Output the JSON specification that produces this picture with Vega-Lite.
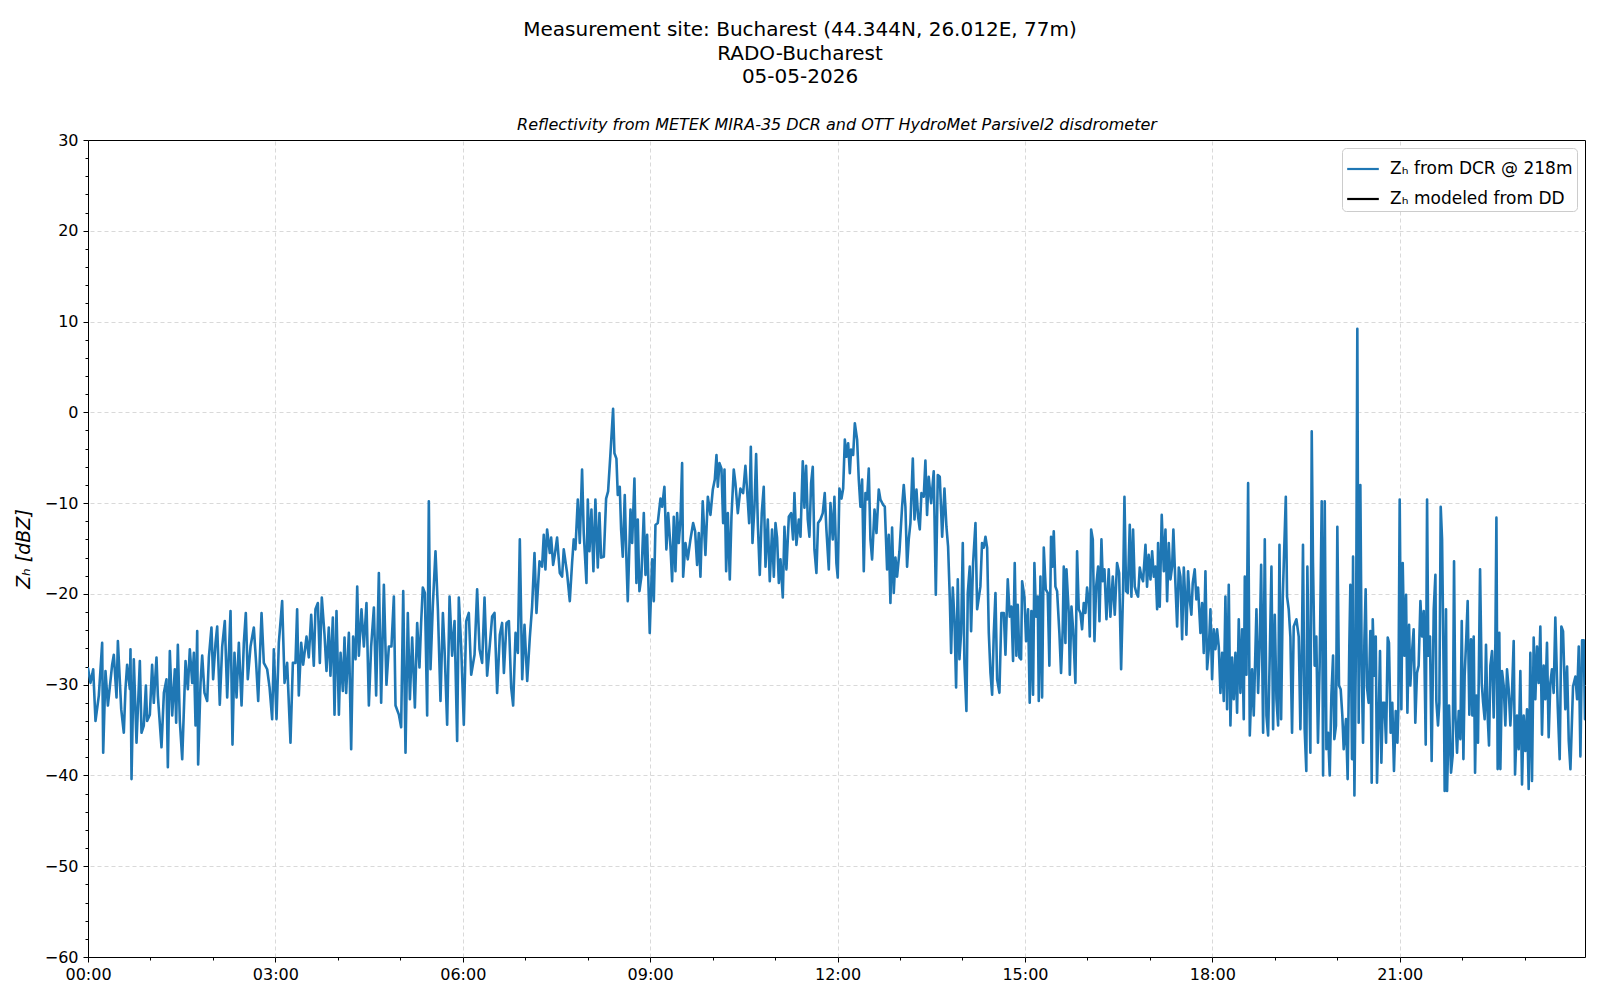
{
  "$schema": "https://vega.github.io/schema/vega-lite/v6.json",
  "width": 1497,
  "height": 817,
  "autosize": {"type": "none"},
  "padding": {"left": 88, "top": 140, "right": 15, "bottom": 43},
  "background": "white",
  "title": {
    "text": ["Measurement site: Bucharest (44.344N, 26.012E, 77m)", "RADO-Bucharest", "05-05-2026"],
    "fontSize": 20,
    "fontWeight": "normal",
    "font": "DejaVu Sans",
    "color": "#000000",
    "anchor": "middle",
    "dx": -36.5,
    "lineHeight": 23.5,
    "offset": 29
  },
  "config": {
    "font": "DejaVu Sans",
    "view": {"stroke": "#000000", "strokeWidth": 1},
    "axis": {
      "labelFontSize": 16,
      "labelColor": "#000000",
      "tickColor": "#000000",
      "tickWidth": 1,
      "titleColor": "#000000",
      "gridColor": "#cfcfcf",
      "gridDash": [4, 3],
      "gridWidth": 0.8,
      "domain": false,
      "labelFlush": false
    }
  },
  "data": {
    "values": [
      {"minute":0,"zh":-28.2},{"minute":2.4,"zh":-29.8},{"minute":5.0,"zh":-28.3},{"minute":7.2,"zh":-34},{"minute":10.4,"zh":-31.2},{"minute":12.0,"zh":-28.3},{"minute":13.6,"zh":-25.4},{"minute":14.6,"zh":-37.5},{"minute":16.8,"zh":-28.5},{"minute":19.1,"zh":-32.3},{"minute":23.2,"zh":-27.8},{"minute":24.8,"zh":-26.7},{"minute":27.4,"zh":-31.4},{"minute":28.7,"zh":-25.2},{"minute":31.9,"zh":-32.7},{"minute":34.4,"zh":-35.3},{"minute":36.0,"zh":-30.5},{"minute":37.6,"zh":-27.8},{"minute":40.2,"zh":-30.5},{"minute":40.8,"zh":-26.1},{"minute":41.8,"zh":-40.4},{"minute":44.0,"zh":-27.2},{"minute":46.6,"zh":-36.4},{"minute":49.8,"zh":-27.4},{"minute":51.4,"zh":-35.3},{"minute":53.6,"zh":-34.5},{"minute":55.6,"zh":-30.1},{"minute":56.8,"zh":-34},{"minute":59.4,"zh":-33.3},{"minute":61.6,"zh":-27.8},{"minute":63.2,"zh":-32},{"minute":65.8,"zh":-27},{"minute":67.1,"zh":-31.2},{"minute":70.6,"zh":-36.9},{"minute":72.9,"zh":-30.9},{"minute":75.4,"zh":-29.4},{"minute":76.7,"zh":-39.1},{"minute":78.6,"zh":-26.3},{"minute":80.9,"zh":-33.4},{"minute":83.4,"zh":-28.3},{"minute":84.7,"zh":-34.2},{"minute":86.3,"zh":-25.6},{"minute":88.2,"zh":-34},{"minute":90.5,"zh":-38.2},{"minute":93.7,"zh":-27.4},{"minute":95.9,"zh":-30.5},{"minute":97.8,"zh":-26.1},{"minute":100.1,"zh":-29.8},{"minute":101.7,"zh":-26.5},{"minute":103.3,"zh":-34.5},{"minute":104.9,"zh":-24.1},{"minute":105.8,"zh":-38.8},{"minute":108.1,"zh":-29.8},{"minute":109.7,"zh":-26.8},{"minute":111.9,"zh":-30.9},{"minute":114.5,"zh":-31.8},{"minute":116.1,"zh":-27},{"minute":118.6,"zh":-23.7},{"minute":120.2,"zh":-29.4},{"minute":122.5,"zh":-25.4},{"minute":124.1,"zh":-23.6},{"minute":126.6,"zh":-32.2},{"minute":128.9,"zh":-25.8},{"minute":131.4,"zh":-23},{"minute":133.7,"zh":-31.4},{"minute":136.9,"zh":-21.9},{"minute":138.8,"zh":-36.6},{"minute":140.7,"zh":-26.5},{"minute":142.7,"zh":-31.4},{"minute":144.9,"zh":-25.4},{"minute":147.5,"zh":-32.3},{"minute":149.7,"zh":-25.4},{"minute":151.6,"zh":-22.1},{"minute":153.5,"zh":-29.4},{"minute":156.1,"zh":-25.8},{"minute":159.3,"zh":-23.7},{"minute":161.5,"zh":-27.6},{"minute":163.5,"zh":-31.8},{"minute":166.7,"zh":-22.1},{"minute":168.9,"zh":-27.6},{"minute":172.1,"zh":-28.3},{"minute":174.4,"zh":-30.3},{"minute":176.9,"zh":-33.8},{"minute":178.5,"zh":-26.1},{"minute":181.1,"zh":-33.8},{"minute":183.3,"zh":-25.4},{"minute":186.5,"zh":-20.8},{"minute":188.8,"zh":-29.8},{"minute":191.3,"zh":-27.6},{"minute":194.5,"zh":-36.4},{"minute":196.8,"zh":-27.6},{"minute":199.3,"zh":-27.6},{"minute":200.9,"zh":-21.7},{"minute":202.5,"zh":-31.2},{"minute":204.8,"zh":-25.4},{"minute":206.7,"zh":-27.8},{"minute":209.9,"zh":-24.7},{"minute":212.1,"zh":-27},{"minute":214.4,"zh":-22.3},{"minute":216.9,"zh":-27.9},{"minute":218.5,"zh":-21.7},{"minute":220.8,"zh":-21},{"minute":222.7,"zh":-27.6},{"minute":224.6,"zh":-20.4},{"minute":227.2,"zh":-24.5},{"minute":229.1,"zh":-28.5},{"minute":231.3,"zh":-23.7},{"minute":232.9,"zh":-29},{"minute":235.2,"zh":-22.6},{"minute":236.8,"zh":-33.3},{"minute":238.7,"zh":-21.9},{"minute":241.0,"zh":-33.3},{"minute":242.6,"zh":-26.5},{"minute":244.8,"zh":-30.7},{"minute":246.4,"zh":-24.8},{"minute":248.0,"zh":-30.9},{"minute":250.6,"zh":-24.3},{"minute":252.8,"zh":-37.1},{"minute":254.7,"zh":-24.7},{"minute":257.0,"zh":-27.2},{"minute":258.6,"zh":-19.2},{"minute":260.2,"zh":-26.8},{"minute":262.7,"zh":-21.7},{"minute":265.0,"zh":-25.8},{"minute":267.5,"zh":-21},{"minute":269.8,"zh":-32.3},{"minute":272.0,"zh":-25.8},{"minute":274.6,"zh":-21.5},{"minute":276.8,"zh":-31.2},{"minute":279.4,"zh":-17.7},{"minute":281.6,"zh":-32},{"minute":284.2,"zh":-19},{"minute":286.7,"zh":-30},{"minute":289.0,"zh":-25.8},{"minute":291.5,"zh":-25.8},{"minute":293.8,"zh":-20.3},{"minute":295.4,"zh":-32.3},{"minute":298.6,"zh":-33.3},{"minute":300.8,"zh":-34.7},{"minute":302.8,"zh":-19.7},{"minute":305.0,"zh":-37.5},{"minute":307.2,"zh":-22.1},{"minute":309.2,"zh":-31.6},{"minute":311.4,"zh":-24.8},{"minute":314.0,"zh":-32.5},{"minute":316.2,"zh":-23.2},{"minute":318.4,"zh":-28.1},{"minute":320.0,"zh":-23.2},{"minute":321.6,"zh":-19.3},{"minute":323.6,"zh":-19.9},{"minute":325.8,"zh":-33.4},{"minute":327.4,"zh":-9.8},{"minute":329.0,"zh":-28.3},{"minute":331.2,"zh":-21.4},{"minute":333.8,"zh":-15.3},{"minute":336.1,"zh":-21.7},{"minute":338.6,"zh":-31.8},{"minute":340.9,"zh":-22.1},{"minute":342.5,"zh":-26.1},{"minute":345.0,"zh":-34.4},{"minute":347.3,"zh":-20.3},{"minute":349.8,"zh":-26.8},{"minute":352.1,"zh":-23},{"minute":354.6,"zh":-36.2},{"minute":356.2,"zh":-20.4},{"minute":358.5,"zh":-25.9},{"minute":361.0,"zh":-34.4},{"minute":363.3,"zh":-23},{"minute":365.8,"zh":-22.1},{"minute":368.1,"zh":-28.9},{"minute":371.3,"zh":-26.7},{"minute":373.8,"zh":-19.5},{"minute":376.1,"zh":-26.1},{"minute":378.6,"zh":-27.6},{"minute":380.9,"zh":-20.4},{"minute":383.4,"zh":-29},{"minute":386.0,"zh":-25.6},{"minute":388.2,"zh":-22.5},{"minute":390.5,"zh":-22.1},{"minute":393.0,"zh":-30.9},{"minute":395.6,"zh":-24.5},{"minute":397.8,"zh":-23.2},{"minute":399.5,"zh":-28.7},{"minute":402.0,"zh":-23.2},{"minute":404.3,"zh":-23},{"minute":406.5,"zh":-30.3},{"minute":408.4,"zh":-32.3},{"minute":410.7,"zh":-24.3},{"minute":412.9,"zh":-26.5},{"minute":414.8,"zh":-14},{"minute":417.1,"zh":-29.4},{"minute":419.3,"zh":-23.4},{"minute":421.9,"zh":-29.6},{"minute":424.4,"zh":-24.8},{"minute":426.6,"zh":-21.4},{"minute":428.9,"zh":-15.5},{"minute":430.8,"zh":-22.1},
      {"minute":433.7,"zh":-16.4},{"minute":436.2,"zh":-17},{"minute":437.8,"zh":-13.5},{"minute":439.4,"zh":-17.3},{"minute":441.0,"zh":-12.9},{"minute":443.6,"zh":-15.5},{"minute":444.9,"zh":-13.8},{"minute":446.8,"zh":-16.8},{"minute":448.4,"zh":-15.7},{"minute":450.6,"zh":-13.8},{"minute":453.2,"zh":-17.7},{"minute":455.4,"zh":-18.1},{"minute":457.0,"zh":-15.1},{"minute":460.2,"zh":-17.7},{"minute":462.8,"zh":-20.8},{"minute":465.0,"zh":-16.6},{"minute":466.6,"zh":-14},{"minute":468.2,"zh":-15.1},{"minute":470.5,"zh":-9.6},{"minute":472.4,"zh":-14.4},{"minute":474.6,"zh":-6.3},{"minute":476.2,"zh":-13.3},{"minute":478.8,"zh":-18.8},{"minute":480.1,"zh":-9.6},{"minute":481.7,"zh":-15.3},{"minute":483.6,"zh":-10.7},{"minute":485.5,"zh":-17.5},{"minute":487.4,"zh":-9.6},{"minute":489.7,"zh":-17.1},{"minute":491.3,"zh":-11.1},{"minute":492.9,"zh":-16},{"minute":495.5,"zh":-15.9},{"minute":497.7,"zh":-9.5},{"minute":499.6,"zh":-8.7},{"minute":501.9,"zh":-4.5},{"minute":504.4,"zh":0.4},{"minute":505.7,"zh":-4.5},{"minute":507.6,"zh":-5.1},{"minute":508.9,"zh":-9.1},{"minute":510.8,"zh":-8.2},{"minute":512.1,"zh":-12.9},{"minute":513.7,"zh":-15.9},{"minute":515.6,"zh":-9.1},{"minute":517.2,"zh":-16.2},{"minute":518.5,"zh":-20.8},{"minute":521.1,"zh":-10.7},{"minute":522.7,"zh":-14.4},{"minute":524.9,"zh":-7.3},{"minute":526.8,"zh":-18.8},{"minute":528.1,"zh":-11.8},{"minute":529.7,"zh":-19.7},{"minute":531.6,"zh":-18.1},{"minute":533.9,"zh":-11.1},{"minute":535.5,"zh":-17.9},{"minute":537.1,"zh":-13.5},{"minute":539.6,"zh":-24.3},{"minute":541.9,"zh":-16.2},{"minute":543.5,"zh":-20.8},{"minute":545.1,"zh":-12.4},{"minute":547.3,"zh":-12.2},{"minute":549.9,"zh":-9.5},{"minute":551.5,"zh":-10.4},{"minute":553.7,"zh":-8.2},{"minute":555.6,"zh":-15.1},{"minute":557.3,"zh":-11.1},{"minute":559.5,"zh":-14.8},{"minute":561.1,"zh":-18.6},{"minute":562.7,"zh":-11.5},{"minute":564.3,"zh":-17.5},{"minute":565.9,"zh":-11.1},{"minute":567.5,"zh":-14.4},{"minute":569.1,"zh":-11.8},{"minute":570.7,"zh":-5.6},{"minute":571.7,"zh":-18.1},{"minute":573.9,"zh":-14.4},{"minute":576.1,"zh":-16.2},{"minute":578.7,"zh":-14},{"minute":581.3,"zh":-12.2},{"minute":583.2,"zh":-13.1},{"minute":585.1,"zh":-16.8},{"minute":586.7,"zh":-13.3},{"minute":588.3,"zh":-18.1},{"minute":590.5,"zh":-9.8},{"minute":593.1,"zh":-15.7},{"minute":595.4,"zh":-9.3},{"minute":597.9,"zh":-11.3},{"minute":600.2,"zh":-8.5},{"minute":602.1,"zh":-7.4},{"minute":603.7,"zh":-4.7},{"minute":605.0,"zh":-8.2},{"minute":606.6,"zh":-5.6},{"minute":608.5,"zh":-6.2},{"minute":610.1,"zh":-12.2},{"minute":611.4,"zh":-6.3},{"minute":613.0,"zh":-17.5},{"minute":614.6,"zh":-11.1},{"minute":616.5,"zh":-18.4},{"minute":618.1,"zh":-11.5},{"minute":620.3,"zh":-6.3},{"minute":621.9,"zh":-7.8},{"minute":624.2,"zh":-11.1},{"minute":626.7,"zh":-8.4},{"minute":629.3,"zh":-8.9},{"minute":631.5,"zh":-5.9},{"minute":633.1,"zh":-8.5},{"minute":635.1,"zh":-12.2},{"minute":636.7,"zh":-3.8},{"minute":638.3,"zh":-14.4},{"minute":640.2,"zh":-10.4},{"minute":641.8,"zh":-4.6},{"minute":643.4,"zh":-12.2},{"minute":645.3,"zh":-17.9},{"minute":647.2,"zh":-11.1},{"minute":649.1,"zh":-8.2},{"minute":650.8,"zh":-17},{"minute":653.0,"zh":-11.8},{"minute":654.9,"zh":-18.6},{"minute":657.1,"zh":-12.9},{"minute":658.8,"zh":-18.1},{"minute":660.4,"zh":-12.2},{"minute":661.9,"zh":-13.8},{"minute":663.6,"zh":-18.8},{"minute":665.2,"zh":-16.2},{"minute":667.4,"zh":-20.4},{"minute":669.0,"zh":-12.6},{"minute":670.9,"zh":-17.3},{"minute":673.2,"zh":-11.5},{"minute":675.4,"zh":-11.1},{"minute":677.3,"zh":-14},{"minute":678.6,"zh":-8.9},{"minute":680.5,"zh":-14.6},{"minute":682.8,"zh":-11.8},{"minute":684.4,"zh":-13.7},{"minute":686.6,"zh":-5.4},{"minute":688.2,"zh":-10.5},{"minute":689.8,"zh":-5.9},{"minute":691.4,"zh":-11.8},{"minute":693.0,"zh":-13.7},{"minute":694.6,"zh":-7.8},{"minute":696.2,"zh":-6},{"minute":697.8,"zh":-15.1},{"minute":699.7,"zh":-17.7},{"minute":701.3,"zh":-12.2},{"minute":703.6,"zh":-11.8},{"minute":705.8,"zh":-11.1},{"minute":707.7,"zh":-8.9},{"minute":709.3,"zh":-12.9},{"minute":711.6,"zh":-17.3},{"minute":713.2,"zh":-10},{"minute":715.4,"zh":-14},{"minute":717.0,"zh":-9.3},{"minute":718.9,"zh":-16.6},{"minute":720.2,"zh":-18.2},{"minute":721.8,"zh":-8.4},{"minute":723.8,"zh":-9.5},{"minute":725.4,"zh":-8.4},{"minute":727.0,"zh":-3},{"minute":728.6,"zh":-4.9},{"minute":730.2,"zh":-3.4},{"minute":731.8,"zh":-6.7},{"minute":733.0,"zh":-4.1},{"minute":735.0,"zh":-4.7},{"minute":736.6,"zh":-1.2},{"minute":738.8,"zh":-3},{"minute":740.4,"zh":-7.4},{"minute":742.0,"zh":-10.4},{"minute":743.6,"zh":-7.4},{"minute":745.2,"zh":-17.5},{"minute":746.8,"zh":-8.9},{"minute":748.4,"zh":-9.6},{"minute":750.0,"zh":-6.2},{"minute":751.6,"zh":-14},{"minute":753.2,"zh":-16.2},{"minute":755.5,"zh":-10.7},{"minute":757.4,"zh":-13.3},{"minute":759.6,"zh":-8.5},{"minute":761.2,"zh":-9.6},{"minute":763.8,"zh":-10.2},{"minute":765.4,"zh":-10.4},{"minute":767.6,"zh":-17.3},{"minute":769.2,"zh":-13.5},{"minute":770.8,"zh":-21},{"minute":772.4,"zh":-12.7},{"minute":774.0,"zh":-19.9},{"minute":775.6,"zh":-16},{"minute":777.2,"zh":-18.1},{"minute":779.5,"zh":-15.3},{"minute":782.0,"zh":-10.4},{"minute":783.6,"zh":-8},{"minute":785.2,"zh":-10.4},{"minute":786.8,"zh":-17},{"minute":788.4,"zh":-14},{"minute":790.0,"zh":-12.2},{"minute":792.3,"zh":-5.1},{"minute":793.9,"zh":-11.8},{"minute":795.8,"zh":-8.5},{"minute":797.4,"zh":-11.5},{"minute":799.0,"zh":-12.9},{"minute":800.6,"zh":-8.9},{"minute":802.8,"zh":-9.3},{"minute":804.4,"zh":-5.3},{"minute":806.0,"zh":-11.3},{"minute":807.6,"zh":-7.1},{"minute":809.9,"zh":-10},{"minute":812.4,"zh":-6.5},{"minute":814.4,"zh":-20.1},{"minute":816.3,"zh":-6.9},{"minute":818.2,"zh":-7.1},{"minute":820.5,"zh":-13.7},{"minute":822.7,"zh":-8.4},{"minute":824.6,"zh":-12.6},{"minute":826.2,"zh":-14.8},{"minute":827.8,"zh":-20.3},{"minute":829.1,"zh":-26.5},{"minute":830.7,"zh":-19.3},{"minute":832.3,"zh":-22.8},{"minute":833.9,"zh":-30.3},{"minute":835.5,"zh":-18.4},{"minute":837.1,"zh":-27.2},{"minute":838.7,"zh":-24.3},{"minute":840.3,"zh":-14.4},{"minute":841.9,"zh":-27.6},{"minute":843.8,"zh":-32.9},{"minute":845.1,"zh":-19.9},{"minute":847.0,"zh":-17},{"minute":848.3,"zh":-24.1},{"minute":850.2,"zh":-16.6},{"minute":852.5,"zh":-12.2},{"minute":854.1,"zh":-21.7},
      {"minute":857.2,"zh":-19.2},{"minute":858.8,"zh":-14.4},{"minute":860.5,"zh":-14.9},{"minute":862.1,"zh":-13.7},{"minute":863.7,"zh":-14.9},{"minute":865.3,"zh":-24.3},{"minute":866.9,"zh":-28.7},{"minute":868.5,"zh":-31.1},{"minute":870.1,"zh":-24.3},{"minute":871.7,"zh":-19.9},{"minute":873.3,"zh":-29.4},{"minute":875.5,"zh":-30.9},{"minute":877.4,"zh":-22.1},{"minute":879.7,"zh":-22.1},{"minute":881.3,"zh":-26.7},{"minute":883.5,"zh":-18.4},{"minute":885.4,"zh":-22.5},{"minute":887.0,"zh":-21.4},{"minute":888.6,"zh":-27.4},{"minute":890.2,"zh":-16.6},{"minute":891.8,"zh":-26.8},{"minute":893.1,"zh":-21.2},{"minute":894.7,"zh":-27},{"minute":896.3,"zh":-27.2},{"minute":897.3,"zh":-18.6},{"minute":899.5,"zh":-20.3},{"minute":901.1,"zh":-25.2},{"minute":903.0,"zh":-21.7},{"minute":904.6,"zh":-32},{"minute":906.2,"zh":-21.9},{"minute":907.8,"zh":-31.1},{"minute":909.1,"zh":-16.6},{"minute":910.7,"zh":-22.5},{"minute":912.3,"zh":-20.3},{"minute":913.3,"zh":-31.8},{"minute":914.9,"zh":-18.1},{"minute":916.5,"zh":-31.4},{"minute":918.1,"zh":-14.9},{"minute":920.0,"zh":-19.5},{"minute":921.9,"zh":-19.9},{"minute":923.5,"zh":-27.9},{"minute":925.1,"zh":-13.7},{"minute":926.4,"zh":-17},{"minute":927.7,"zh":-13.1},{"minute":929.3,"zh":-19.2},{"minute":930.9,"zh":-19.7},{"minute":933.1,"zh":-24.3},{"minute":934.7,"zh":-28.7},{"minute":936.3,"zh":-23.9},{"minute":937.3,"zh":-17},{"minute":938.9,"zh":-25.4},{"minute":939.9,"zh":-17.3},{"minute":942.1,"zh":-22.1},{"minute":943.1,"zh":-28.9},{"minute":944.7,"zh":-21.4},{"minute":946.3,"zh":-23.9},{"minute":948.5,"zh":-29.8},{"minute":950.1,"zh":-15.3},{"minute":951.7,"zh":-21.7},{"minute":953.3,"zh":-22.1},{"minute":954.9,"zh":-23.9},{"minute":956.5,"zh":-21},{"minute":958.1,"zh":-22.1},{"minute":959.7,"zh":-19.3},{"minute":961.3,"zh":-21},{"minute":962.3,"zh":-24.7},{"minute":963.6,"zh":-12.9},{"minute":965.2,"zh":-14},{"minute":966.8,"zh":-25.2},{"minute":968.4,"zh":-19.2},{"minute":970.3,"zh":-17},{"minute":971.6,"zh":-23},{"minute":973.5,"zh":-14},{"minute":974.8,"zh":-18.6},{"minute":976.4,"zh":-17.3},{"minute":978.3,"zh":-22.8},{"minute":980.5,"zh":-17.3},{"minute":982.1,"zh":-22.5},{"minute":984.4,"zh":-18.1},{"minute":986.3,"zh":-22.3},{"minute":988.5,"zh":-16.6},{"minute":990.5,"zh":-17.7},{"minute":992.4,"zh":-28.3},{"minute":994.3,"zh":-19.5},{"minute":995.6,"zh":-9.3},{"minute":997.2,"zh":-19.7},{"minute":998.8,"zh":-19.9},{"minute":1000.7,"zh":-12.4},{"minute":1002.3,"zh":-20.3},{"minute":1003.9,"zh":-12.9},{"minute":1005.5,"zh":-19.2},{"minute":1007.1,"zh":-19.9},{"minute":1008.7,"zh":-20.3},{"minute":1010.3,"zh":-17.1},{"minute":1011.9,"zh":-18.1},{"minute":1013.5,"zh":-18.6},{"minute":1015.8,"zh":-14.6},{"minute":1017.3,"zh":-19.2},{"minute":1018.9,"zh":-15.7},{"minute":1020.6,"zh":-18.4},{"minute":1022.2,"zh":-15.3},{"minute":1023.8,"zh":-18.1},{"minute":1025.4,"zh":-17},{"minute":1027.0,"zh":-21.7},{"minute":1027.9,"zh":-14.4},{"minute":1029.5,"zh":-21.4},{"minute":1031.4,"zh":-11.3},{"minute":1033.4,"zh":-17.5},{"minute":1035.0,"zh":-12.9},{"minute":1036.6,"zh":-20.8},{"minute":1038.2,"zh":-14.4},{"minute":1039.8,"zh":-18.4},{"minute":1041.4,"zh":-17},{"minute":1042.6,"zh":-12.9},{"minute":1044.6,"zh":-19},{"minute":1046.2,"zh":-23.6},{"minute":1047.8,"zh":-17.1},{"minute":1049.4,"zh":-18.1},{"minute":1051.0,"zh":-25},{"minute":1052.6,"zh":-17.1},{"minute":1054.2,"zh":-21},{"minute":1055.1,"zh":-24.5},{"minute":1056.7,"zh":-17.5},{"minute":1058.3,"zh":-20.6},{"minute":1059.9,"zh":-22.3},{"minute":1061.2,"zh":-18.8},{"minute":1063.1,"zh":-17.3},{"minute":1064.7,"zh":-20.6},{"minute":1066.3,"zh":-19.3},{"minute":1068.6,"zh":-24.3},{"minute":1070.2,"zh":-21},{"minute":1071.8,"zh":-26.5},{"minute":1073.4,"zh":-17.5},{"minute":1075.0,"zh":-28.3},{"minute":1076.6,"zh":-26.1},{"minute":1078.2,"zh":-21.7},{"minute":1079.8,"zh":-29.4},{"minute":1081.4,"zh":-23.9},{"minute":1083.0,"zh":-26.1},{"minute":1084.6,"zh":-23.9},{"minute":1086.2,"zh":-25.8},{"minute":1087.8,"zh":-30.9},{"minute":1089.4,"zh":-26.5},{"minute":1091.0,"zh":-31.8},{"minute":1092.6,"zh":-20.3},{"minute":1094.2,"zh":-32.7},{"minute":1095.8,"zh":-19},{"minute":1097.4,"zh":-34.5},{"minute":1099.0,"zh":-27},{"minute":1100.6,"zh":-31.6},{"minute":1102.2,"zh":-26.5},{"minute":1103.8,"zh":-33.1},{"minute":1105.4,"zh":-22.8},{"minute":1107.0,"zh":-30.9},{"minute":1108.6,"zh":-23.9},{"minute":1110.2,"zh":-33.8},{"minute":1111.2,"zh":-18.1},{"minute":1112.8,"zh":-28.9},{"minute":1114.4,"zh":-7.8},{"minute":1116.0,"zh":-35.6},{"minute":1118.2,"zh":-28.3},{"minute":1119.8,"zh":-33.4},{"minute":1122.4,"zh":-21.7},{"minute":1124.0,"zh":-30.9},{"minute":1125.6,"zh":-25},{"minute":1126.9,"zh":-16.8},{"minute":1128.8,"zh":-35.3},{"minute":1130.4,"zh":-14},{"minute":1132.0,"zh":-33.4},{"minute":1133.6,"zh":-35.6},{"minute":1135.2,"zh":-26.7},{"minute":1136.8,"zh":-17},{"minute":1138.4,"zh":-34.9},{"minute":1140.0,"zh":-22.3},{"minute":1141.6,"zh":-31.6},{"minute":1143.2,"zh":-34.5},{"minute":1144.5,"zh":-14.6},{"minute":1146.1,"zh":-33.8},{"minute":1147.7,"zh":-20.3},{"minute":1149.3,"zh":-14.2},{"minute":1150.6,"zh":-9.3},{"minute":1151.8,"zh":-20.3},{"minute":1153.4,"zh":-21.7},{"minute":1155.0,"zh":-24.7},{"minute":1156.6,"zh":-35.3},{"minute":1158.2,"zh":-23.6},{"minute":1160.8,"zh":-22.8},
      {"minute":1163.0,"zh":-24.7},{"minute":1164.6,"zh":-34.9},{"minute":1166.2,"zh":-24.3},{"minute":1167.1,"zh":-14.6},{"minute":1168.7,"zh":-34.9},{"minute":1170.3,"zh":-39.5},{"minute":1171.3,"zh":-17},{"minute":1172.6,"zh":-27.2},{"minute":1174.2,"zh":-37.5},{"minute":1175.5,"zh":-2.1},{"minute":1176.7,"zh":-16.6},{"minute":1178.3,"zh":-27.9},{"minute":1179.9,"zh":-24.7},{"minute":1181.5,"zh":-36.4},{"minute":1183.1,"zh":-27.9},{"minute":1185.1,"zh":-9.8},{"minute":1186.4,"zh":-40},{"minute":1188.0,"zh":-9.8},{"minute":1189.6,"zh":-37.1},{"minute":1191.2,"zh":-35.3},{"minute":1192.8,"zh":-40},{"minute":1194.4,"zh":-31.1},{"minute":1196.0,"zh":-26.8},{"minute":1197.2,"zh":-36},{"minute":1198.8,"zh":-34.5},{"minute":1200.1,"zh":-12.6},{"minute":1201.7,"zh":-30.1},{"minute":1203.3,"zh":-30.5},{"minute":1204.9,"zh":-33.4},{"minute":1206.2,"zh":-37.1},{"minute":1208.4,"zh":-33.8},{"minute":1210.0,"zh":-40.4},{"minute":1211.6,"zh":-25.8},{"minute":1212.6,"zh":-19},{"minute":1214.2,"zh":-38.2},{"minute":1215.2,"zh":-15.9},{"minute":1216.5,"zh":-42.2},{"minute":1218.1,"zh":-24.3},{"minute":1219.3,"zh":9.2},{"minute":1220.6,"zh":-34.2},{"minute":1222.2,"zh":-8},{"minute":1223.5,"zh":-27.9},{"minute":1224.8,"zh":-36.4},{"minute":1226.1,"zh":-25},{"minute":1227.3,"zh":-19.5},{"minute":1228.6,"zh":-30.3},{"minute":1230.2,"zh":-32},{"minute":1231.8,"zh":-24.1},{"minute":1233.1,"zh":-40.8},{"minute":1234.1,"zh":-22.8},{"minute":1235.7,"zh":-29},{"minute":1237.0,"zh":-24.7},{"minute":1238.2,"zh":-40.8},{"minute":1239.8,"zh":-33.4},{"minute":1241.1,"zh":-26.3},{"minute":1242.4,"zh":-38.6},{"minute":1243.7,"zh":-32},{"minute":1245.3,"zh":-32},{"minute":1246.9,"zh":-36.4},{"minute":1248.5,"zh":-24.8},{"minute":1249.7,"zh":-25.4},{"minute":1251.3,"zh":-35.3},{"minute":1252.9,"zh":-32},{"minute":1254.5,"zh":-39.5},{"minute":1256.2,"zh":-32.9},{"minute":1257.8,"zh":-36.4},{"minute":1258.7,"zh":-32.7},{"minute":1260.0,"zh":-9.6},{"minute":1261.6,"zh":-32.7},{"minute":1262.9,"zh":-16.6},{"minute":1264.5,"zh":-26.8},{"minute":1266.1,"zh":-20.1},{"minute":1267.4,"zh":-33.1},{"minute":1269.0,"zh":-23.4},{"minute":1270.2,"zh":-30.1},{"minute":1271.8,"zh":-26.5},{"minute":1273.4,"zh":-23.9},{"minute":1275.0,"zh":-34.2},{"minute":1276.6,"zh":-28.7},{"minute":1278.2,"zh":-27.9},{"minute":1279.9,"zh":-20.8},{"minute":1281.5,"zh":-24.7},{"minute":1283.1,"zh":-21.9},{"minute":1285.0,"zh":-36.6},{"minute":1286.3,"zh":-9.6},{"minute":1287.5,"zh":-26.8},{"minute":1289.1,"zh":-24.7},{"minute":1290.7,"zh":-38.4},{"minute":1292.7,"zh":-21.7},{"minute":1294.3,"zh":-17.9},{"minute":1295.2,"zh":-31.8},{"minute":1296.8,"zh":-34.5},{"minute":1298.1,"zh":-32},{"minute":1299.4,"zh":-10.4},{"minute":1300.7,"zh":-14},{"minute":1302.3,"zh":-29.4},{"minute":1303.2,"zh":-41.7},{"minute":1304.5,"zh":-21.7},{"minute":1305.5,"zh":-41.7},{"minute":1307.4,"zh":-32.3},{"minute":1309.3,"zh":-39.7},{"minute":1310.9,"zh":-37.8},{"minute":1312.2,"zh":-16.4},{"minute":1313.5,"zh":-33.4},{"minute":1315.1,"zh":-37.5},{"minute":1316.7,"zh":-32.9},{"minute":1318.3,"zh":-36},{"minute":1319.6,"zh":-23},{"minute":1321.2,"zh":-38.2},{"minute":1322.4,"zh":-29},{"minute":1324.0,"zh":-24.7},{"minute":1325.3,"zh":-20.8},{"minute":1326.9,"zh":-33.3},{"minute":1328.5,"zh":-25},{"minute":1329.8,"zh":-33.4},{"minute":1331.1,"zh":-24.7},{"minute":1332.4,"zh":-39.7},{"minute":1333.6,"zh":-31.2},{"minute":1335.2,"zh":-36.4},{"minute":1337.2,"zh":-17.3},{"minute":1338.8,"zh":-29.8},{"minute":1340.0,"zh":-31.8},{"minute":1341.6,"zh":-33.8},{"minute":1342.9,"zh":-25.6},{"minute":1344.2,"zh":-32.7},{"minute":1345.8,"zh":-36.7},{"minute":1347.1,"zh":-27.9},{"minute":1348.7,"zh":-26.3},{"minute":1350.3,"zh":-33.6},{"minute":1351.9,"zh":-25.4},{"minute":1352.9,"zh":-11.6},{"minute":1354.1,"zh":-39.3},{"minute":1355.7,"zh":-24.3},{"minute":1356.7,"zh":-39.3},{"minute":1358.3,"zh":-28.5},{"minute":1359.9,"zh":-30.1},{"minute":1361.5,"zh":-34.5},{"minute":1363.1,"zh":-28.3},{"minute":1364.7,"zh":-30.5},{"minute":1366.3,"zh":-34.5},{"minute":1367.9,"zh":-30.9},{"minute":1369.5,"zh":-25.2},{"minute":1370.8,"zh":-39.9},{"minute":1372.7,"zh":-33.4},{"minute":1374.3,"zh":-37.1},{"minute":1375.9,"zh":-28.5},{"minute":1377.5,"zh":-41},{"minute":1379.1,"zh":-33.4},{"minute":1380.7,"zh":-37.3},{"minute":1382.3,"zh":-32.7},{"minute":1383.9,"zh":-41.5},{"minute":1385.5,"zh":-26.5},{"minute":1387.1,"zh":-40.6},{"minute":1388.7,"zh":-24.8},{"minute":1390.3,"zh":-31.6},{"minute":1391.9,"zh":-25.8},{"minute":1393.5,"zh":-29.8},{"minute":1395.1,"zh":-23.6},{"minute":1396.7,"zh":-35.5},{"minute":1398.3,"zh":-27.9},{"minute":1399.9,"zh":-31.6},{"minute":1401.5,"zh":-25.4},{"minute":1403.1,"zh":-35.8},{"minute":1404.7,"zh":-29.8},{"minute":1406.3,"zh":-28.3},{"minute":1407.9,"zh":-30.9},{"minute":1409.5,"zh":-22.6},{"minute":1411.8,"zh":-32.4},{"minute":1413.7,"zh":-38.2},{"minute":1415.3,"zh":-23.6},{"minute":1416.9,"zh":-24.1},{"minute":1419.1,"zh":-32.7},{"minute":1420.8,"zh":-28},{"minute":1422.4,"zh":-36.2},{"minute":1424.0,"zh":-39.3},{"minute":1426.5,"zh":-30.2},{"minute":1428.8,"zh":-29.1},{"minute":1430.4,"zh":-31.6},{"minute":1432.0,"zh":-25.8},{"minute":1433.6,"zh":-37.9},{"minute":1435.2,"zh":-25.1},{"minute":1436.8,"zh":-25.1},{"minute":1438.0,"zh":-33.8}
    ]
  },
  "layer": [
    {
      "mark": {"type": "line", "opacity": 0},
      "encoding": {
        "x": {
          "field": "minute",
          "type": "quantitative",
          "scale": {"domain": [0, 1438], "nice": false, "zero": false},
          "axis": {
            "orient": "top",
            "title": "Reflectivity from METEK MIRA-35 DCR and OTT HydroMet Parsivel2 disdrometer",
            "titleFontSize": 16,
            "titleFontWeight": "normal",
            "titleFontStyle": "italic",
            "titlePadding": 8,
            "labels": false,
            "ticks": false,
            "grid": true,
            "values": [180, 360, 540, 720, 900, 1080, 1260]
          }
        },
        "y": {
          "field": "zh",
          "type": "quantitative",
          "scale": {"domain": [-60, 30], "nice": false, "zero": false},
          "axis": {
            "orient": "right",
            "title": null,
            "labels": false,
            "ticks": false,
            "grid": true,
            "values": [-50, -40, -30, -20, -10, 0, 10, 20]
          }
        }
      }
    },
    {
      "mark": {"type": "line", "opacity": 0},
      "encoding": {
        "x": {
          "field": "minute",
          "type": "quantitative",
          "axis": {
            "orient": "bottom",
            "title": null,
            "labels": false,
            "grid": false,
            "tickSize": 3,
            "values": [60, 120, 240, 300, 420, 480, 600, 660, 780, 840, 960, 1020, 1140, 1200, 1320, 1380]
          }
        },
        "y": {
          "field": "zh",
          "type": "quantitative",
          "axis": {
            "orient": "left",
            "title": null,
            "labels": false,
            "grid": false,
            "tickSize": 3,
            "values": [-58, -56, -54, -52, -48, -46, -44, -42, -38, -36, -34, -32, -28, -26, -24, -22, -18, -16, -14, -12, -8, -6, -4, -2, 2, 4, 6, 8, 12, 14, 16, 18, 22, 24, 26, 28]
          }
        }
      }
    },
    {
      "mark": {"type": "line", "strokeWidth": 2.6, "strokeJoin": "round", "strokeCap": "round", "clip": true},
      "encoding": {
        "x": {
          "field": "minute",
          "type": "quantitative",
          "axis": {
            "orient": "bottom",
            "title": null,
            "values": [0, 180, 360, 540, 720, 900, 1080, 1260],
            "labelExpr": "utcFormat(datum.value * 60000, '%H:%M')",
            "grid": false,
            "tickSize": 5,
            "labelPadding": 4
          }
        },
        "y": {
          "field": "zh",
          "type": "quantitative",
          "axis": {
            "orient": "left",
            "title": "Z\u2095 [dBZ]",
            "titleFontSize": 19,
            "titleFontWeight": "normal",
            "titleFontStyle": "italic",
            "titlePadding": 11,
            "values": [-60, -50, -40, -30, -20, -10, 0, 10, 20, 30],
            "grid": false,
            "tickSize": 5,
            "labelPadding": 5
          }
        },
        "color": {
          "datum": "Z\u2095 from DCR @ 218m",
          "type": "nominal",
          "scale": {
            "domain": ["Z\u2095 from DCR @ 218m", "Z\u2095 modeled from DD"],
            "range": ["#1f77b4", "#000000"]
          },
          "legend": {
            "title": null,
            "orient": "top-right",
            "offset": 8,
            "symbolType": "stroke",
            "symbolStrokeWidth": 2.2,
            "symbolSize": 1000,
            "labelFontSize": 17,
            "labelColor": "#000000",
            "labelLimit": 400,
            "labelOffset": 10,
            "rowPadding": 5,
            "padding": 4,
            "strokeColor": "#cccccc",
            "fillColor": "#ffffff",
            "cornerRadius": 4
          }
        }
      }
    }
  ],
  "resolve": {"axis": {"x": "independent", "y": "independent"}}
}
